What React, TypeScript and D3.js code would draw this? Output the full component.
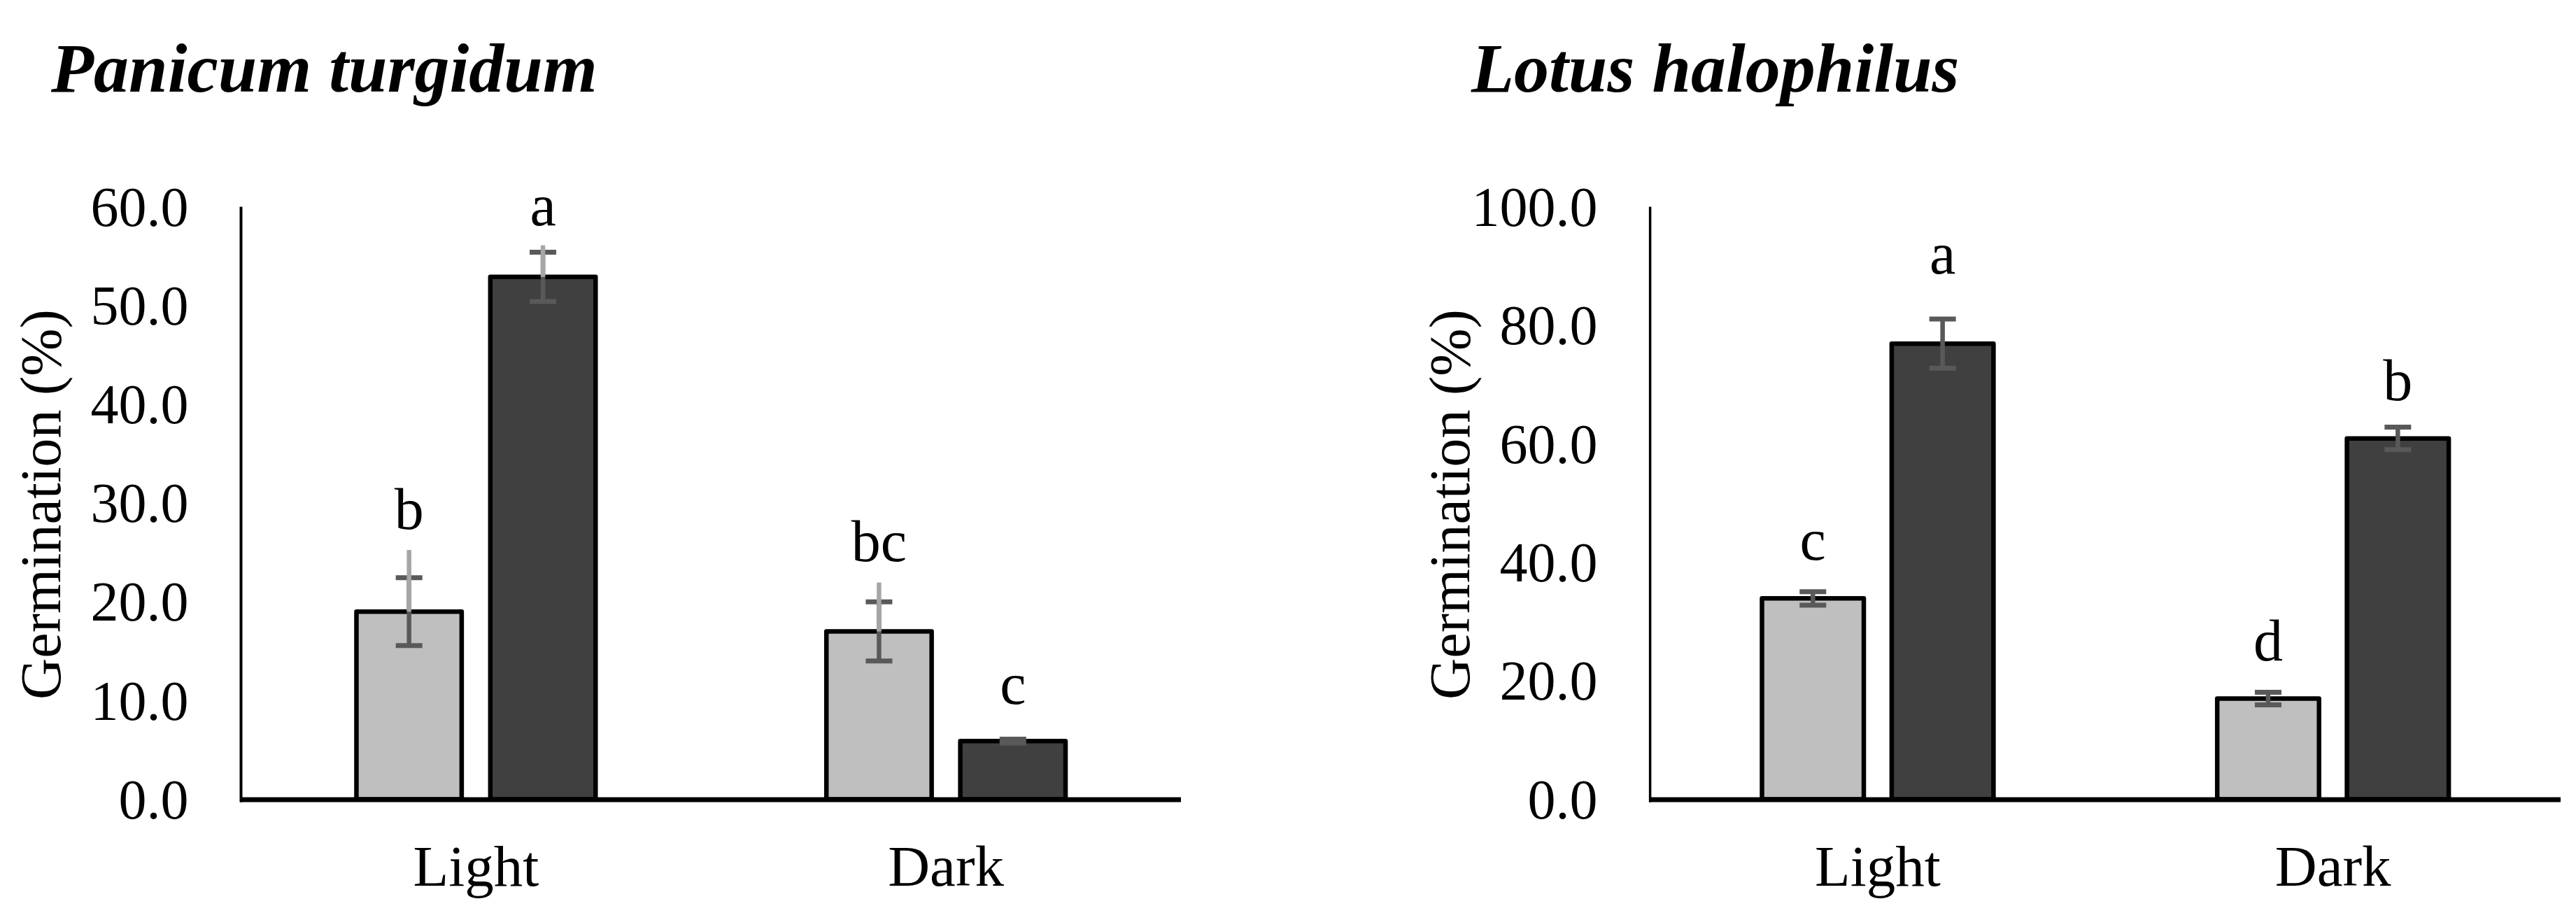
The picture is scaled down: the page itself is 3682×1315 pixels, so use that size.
import React from "react";
import * as d3 from "d3";

// ---------- data ----------
const categories = ["Light", "Dark"];
const series = ["s1", "s2"]; // light grey, dark grey bars

// Panicum turgidum
const panicumTitle = "Panicum turgidum";
const panicumMeans = [
  [19.0, 52.9], // Light
  [17.0, 5.9],  // Dark
];
const panicumSE = [
  [3.44, 2.5],
  [3.0, 0.2],
];
const panicumUpper = [
  [6.25, 3.2],
  [4.95, 0],
];
const panicumLetters = [
  ["b", "a"],
  ["bc", "c"],
];
const panicumLetterAt = [
  [27.4, 58.1],
  [24.1, 9.7],
];
const panicumTicks = [0, 10, 20, 30, 40, 50, 60];

// Lotus halophilus
const lotusTitle = "Lotus halophilus";
const lotusMeans = [
  [33.9, 76.9],
  [17.0, 60.9],
];
const lotusSE = [
  [1.15, 4.15],
  [1.05, 1.9],
];
const lotusUpper = [
  [0, 0],
  [0, 0],
];
const lotusLetters = [
  ["c", "a"],
  ["d", "b"],
];
const lotusLetterAt = [
  [40.4, 88.7],
  [23.4, 67.35],
];
const lotusTicks = [0, 20, 40, 60, 80, 100];

const yLabel = "Germination (%)";

// ---------- styles ----------
const W = 3682;
const H = 1315;
const FONT = "'Liberation Serif', 'Times New Roman', serif";
const fills = ["#bfbfbf", "#404040"];
const ERR = "#595959";
const ERR_LIGHT = "#a6a6a6";

type PanelProps = {
  title: string;
  titleX: number;
  means: number[][];
  se: number[][];
  upper: number[][];
  letters: string[][];
  letterAt: number[][];
  ticks: number[];
  x0: number;
  x1: number;
  yMax: number;
  yAxisW: number;
};

function Panel(p: PanelProps) {
  const y = d3.scaleLinear().domain([0, p.yMax]).range([1142.5, 295.5]);
  const x = d3.scaleBand<string>().domain(categories).range([p.x0, p.x1]).padding(0);
  const inner = d3
    .scaleBand<string>()
    .domain(series)
    .range([0, x.bandwidth()])
    .paddingInner(0.18)
    .paddingOuter(0.845);
  const bw = inner.bandwidth();
  const sw = 6.5;
  const capW = 38;
  const fmt = d3.format(".1f");
  const labelX = p.x0 - 259;
  const midY = (y(0) + y(p.yMax)) / 2 + 2;

  return (
    <g>
      <text
        x={p.titleX}
        y={131}
        fontFamily={FONT}
        fontSize={100}
        fontWeight="bold"
        fontStyle="italic"
        fill="#000"
      >
        {p.title}
      </text>

      {/* y tick labels */}
      {p.ticks.map((t) => (
        <text
          key={t}
          x={p.x0 - 75}
          y={y(t)}
          dy="0.34em"
          textAnchor="end"
          fontFamily={FONT}
          fontSize={80}
          fill="#000"
        >
          {fmt(t)}
        </text>
      ))}

      {/* y label */}
      <text
        transform={`translate(${labelX},${midY}) rotate(-90)`}
        textAnchor="middle"
        fontFamily={FONT}
        fontSize={82}
        fill="#000"
      >
        {yLabel}
      </text>

      {/* bars */}
      {categories.map((c, ci) =>
        series.map((s, si) => {
          const v = p.means[ci][si];
          const bx = (x(c) as number) + (inner(s) as number);
          return (
            <rect
              key={c + s}
              x={bx + sw / 2}
              y={y(v)}
              width={bw - sw}
              height={y(0) - y(v)}
              fill={fills[si]}
              stroke="#000"
              strokeWidth={sw}
              strokeLinejoin="round"
            />
          );
        })
      )}

      {/* error bars */}
      {categories.map((c, ci) =>
        series.map((s, si) => {
          const v = p.means[ci][si];
          const e = p.se[ci][si];
          const u = p.upper[ci][si];
          const cx = (x(c) as number) + (inner(s) as number) + bw / 2;
          return (
            <g key={"e" + c + s}>
              <line x1={cx} x2={cx} y1={y(v - e)} y2={y(v + e)} stroke={ERR} strokeWidth={6.5} />
              <line x1={cx - capW / 2} x2={cx + capW / 2} y1={y(v - e)} y2={y(v - e)} stroke={ERR} strokeWidth={7} />
              <line x1={cx - capW / 2} x2={cx + capW / 2} y1={y(v + e)} y2={y(v + e)} stroke={ERR} strokeWidth={7} />
              {u > 0 && (
                <line x1={cx} x2={cx} y1={y(v)} y2={y(v + u)} stroke={ERR_LIGHT} strokeWidth={6.5} />
              )}
            </g>
          );
        })
      )}

      {/* significance letters */}
      {categories.map((c, ci) =>
        series.map((s, si) => {
          const cx = (x(c) as number) + (inner(s) as number) + bw / 2;
          return (
            <text
              key={"l" + c + s}
              x={cx}
              y={y(p.letterAt[ci][si])}
              textAnchor="middle"
              fontFamily={FONT}
              fontSize={84}
              fill="#000"
            >
              {p.letters[ci][si]}
            </text>
          );
        })
      )}

      {/* axes */}
      <line x1={p.x0} x2={p.x0} y1={y(p.yMax)} y2={1146.5} stroke="#000" strokeWidth={p.yAxisW} />
      <line x1={p.x0 - 1.5} x2={p.x1} y1={1143} y2={1143} stroke="#000" strokeWidth={7} />

      {/* category labels */}
      {categories.map((c) => (
        <text
          key={"c" + c}
          x={(x(c) as number) + x.bandwidth() / 2}
          y={1266}
          textAnchor="middle"
          fontFamily={FONT}
          fontSize={83}
          fill="#000"
        >
          {c}
        </text>
      ))}
    </g>
  );
}

export default function App() {
  return (
    <svg
      width={W}
      height={H}
      viewBox={`0 0 ${W} ${H}`}
      style={{ position: "absolute", left: 0, top: 0, background: "#fff" }}
    >
      <rect x={0} y={0} width={W} height={H} fill="#fff" />
      <Panel
        title={panicumTitle}
        titleX={73}
        means={panicumMeans}
        se={panicumSE}
        upper={panicumUpper}
        letters={panicumLetters}
        letterAt={panicumLetterAt}
        ticks={panicumTicks}
        x0={344.5}
        x1={1688}
        yMax={60}
        yAxisW={4}
      />
      <Panel
        title={lotusTitle}
        titleX={2103}
        means={lotusMeans}
        se={lotusSE}
        upper={lotusUpper}
        letters={lotusLetters}
        letterAt={lotusLetterAt}
        ticks={lotusTicks}
        x0={2358.6}
        x1={3660}
        yMax={100}
        yAxisW={3.5}
      />
    </svg>
  );
}
